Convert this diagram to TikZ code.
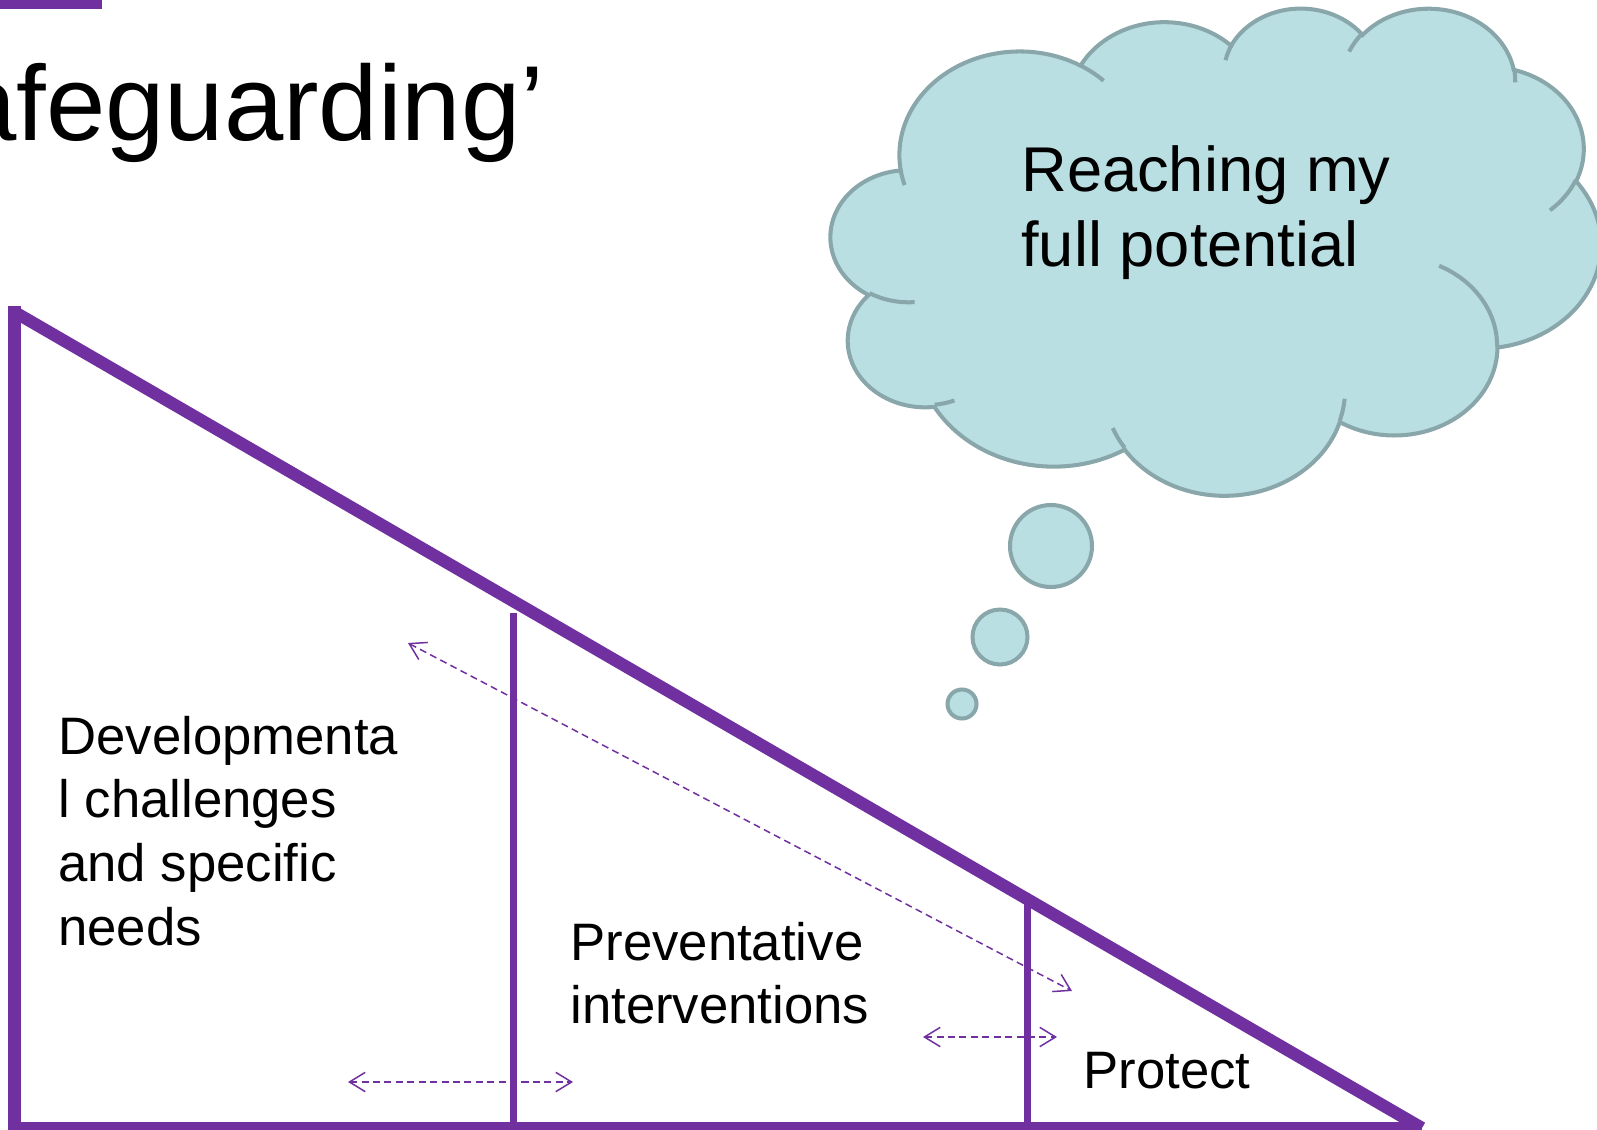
\documentclass[tikz,border=0pt]{standalone}
\usepackage{fontspec}
\setmainfont{Liberation Sans}
\usetikzlibrary{arrows.meta}
\definecolor{tripurple}{RGB}{112,48,160}
\definecolor{cloudfill}{RGB}{185,223,226}
\definecolor{cloudline}{RGB}{137,167,170}
\newcommand\ooarc[4]{arc[x radius=#1, y radius=#2, start angle={atan2((#1)*sin(#3),(#2)*cos(#3))}, delta angle={Mod(atan2((#1)*sin((#3)+(#4)),(#2)*cos((#3)+(#4)))-atan2((#1)*sin(#3),(#2)*cos(#3)),360)}]}
\tikzset{
  outerline/.style={draw=tripurple, line width=7pt, line cap=butt},
  innerline/.style={draw=tripurple, line width=3.7pt},
  dasharrow/.style={draw=tripurple, line width=0.85pt, dash pattern=on 4pt off 2.5pt, {Straight Barb[length=9pt,width=11pt]}-{Straight Barb[length=9pt,width=11pt]}},
  cloudshape/.style={fill=cloudfill, draw=cloudline, line width=2.3pt},
  hookline/.style={draw=cloudline, line width=2.3pt},
  bodytext/.style={anchor=base west, inner sep=0pt, font=\fontsize{30}{36.3}\selectfont},
}
\begin{document}
\begin{tikzpicture}[x=0.02cm, y=-0.02cm]
\useasboundingbox (0,0) rectangle (1597,1130);
\clip (0,0) rectangle (1597,1130);
\fill[tripurple] (0,0) rectangle (102,9);
\node[anchor=base west, inner sep=0pt, font=\fontsize{60.7}{72}\selectfont] (title) at (-43,140) {afeguarding’};

% triangle
\coordinate (A) at (14.5,312);
\coordinate (B) at (14.5,1128);
\coordinate (C) at (1422,1128);
\coordinate (Atop) at (14.5,306);
\coordinate (Bbot) at (14.5,1136);
\draw[outerline] (Atop) -- (Bbot);
\draw[outerline] (8,1128) -- (C);
\draw[outerline] (A) -- (C);
\coordinate (i1t) at (513.5,613);
\coordinate (i1b) at (513.5,1128);
\coordinate (i2t) at (1027.5,899);
\coordinate (i2b) at (1027.5,1128);
\draw[innerline] (i1t) -- (i1b);
\draw[innerline] (i2t) -- (i2b);

% arrows
\coordinate (d1) at (408,643);
\coordinate (d2) at (1072,991);
\coordinate (b1) at (348,1082);
\coordinate (b2) at (573,1082);
\coordinate (r1) at (923,1037);
\coordinate (r2) at (1057,1037);
\draw[dasharrow] (d1) -- (d2);
\draw[dasharrow] (b1) -- (b2);
\draw[dasharrow] (r1) -- (r2);

% texts
\node[bodytext] (dev) at (58,754) {\vtop{\hbox{Developmenta}\hbox{l challenges}\hbox{and specific}\hbox{needs}}};
\node[bodytext] (prev) at (570,960) {\vtop{\hbox{Preventative}\hbox{interventions}}};
\node[bodytext] (prot) at (1083,1088) {Protect};

% cloud
\begin{scope}[shift={(831,7)}, x=0.035648cm, y=-0.022546cm]
\path[cloudshape] (39.00,143.70)
  \ooarc{67.53}{91.90}{-190.48748}{123.78053}
  \ooarc{53.33}{72.67}{-144.10238}{89.94523}
  \ooarc{43.65}{59.45}{-145.80792}{99.72302}
  \ooarc{48.57}{65.95}{-130.98607}{117.24173}
  \ooarc{53.33}{72.73}{-78.70888}{109.02692}
  \ooarc{67.75}{92.20}{-46.26725}{130.269}
  \ooarc{57.85}{78.67}{0.62502}{114.03333}
  \ooarc{67.52}{92.15}{22.4516}{115.17255}
  \ooarc{77.20}{105.43}{66.24263}{75.71102}
  \ooarc{43.60}{59.18}{-274.94208}{146.73557}
  \ooarc{43.45}{59.45}{-246.8285}{152.53195}
  -- cycle;
\draw[hookline] (46.93,261.77) \ooarc{43.45}{59.45}{86.742}{26.4295};
\draw[hookline] (69.28,348.99) \ooarc{43.60}{59.18}{73.61047}{11.44747};
\draw[hookline] (164.78,390.90) \ooarc{67.52}{92.15}{137.62415}{14.0811};
\draw[hookline] (288.27,347.51) \ooarc{67.52}{92.15}{6.45327}{15.99835};
\draw[hookline] (341.29,229.54) \ooarc{57.85}{78.67}{-70.29235}{70.91737};
\draw[hookline] (417.98,153.54) \ooarc{53.33}{72.73}{30.31803}{27.7515};
\draw[hookline] (383.24,54.26) \ooarc{48.57}{65.95}{-13.74433}{14.8589};
\draw[hookline] (290.78,39.52) \ooarc{48.57}{65.95}{-149.18145}{18.19537};
\draw[hookline] (221.41,47.20) \ooarc{43.65}{59.45}{-163.49427}{17.68635};
\draw[hookline] (140.00,51.92) \ooarc{67.53}{91.90}{-66.70695}{12.31935};
\draw[hookline] (41.27,157.89) \ooarc{67.53}{91.90}{157.65435}{11.85817};
\end{scope}
\node[anchor=base west, inner sep=0pt, font=\fontsize{36}{42.7}\selectfont] (cloudtext) at (1021,191) {\vtop{\hbox{Reaching my}\hbox{full potential}}};

% bubbles
\draw[cloudshape] (1051,546) circle[radius=41];
\draw[cloudshape] (1000,637) circle[radius=27.5];
\draw[cloudshape] (962,704) circle[radius=14.5];
\end{tikzpicture}
\end{document}
